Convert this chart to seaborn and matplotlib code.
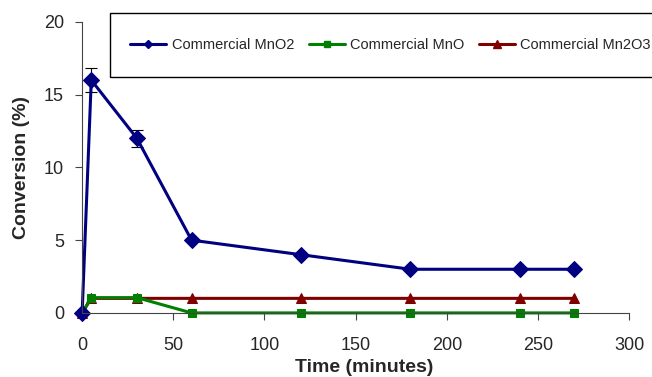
import numpy as np
import pandas as pd
import matplotlib
matplotlib.use("Agg")
import matplotlib.pyplot as plt
from matplotlib.patches import Rectangle
from matplotlib.lines import Line2D
import seaborn as sns

# ---------------------------------------------------
# Data
# ---------------------------------------------------
time_min = [0, 5, 30, 60, 120, 180, 240, 270]
mno2 = [0, 16, 12, 5, 4, 3, 3, 3]
mno2_err = [0, 0.8, 0.6, 0, 0, 0, 0, 0]
mno = [0, 1.05, 1.05, 0, 0, 0, 0, 0]
mn2o3 = [0, 1, 1, 1, 1, 1, 1, 1]

series_names = ["Commercial MnO2", "Commercial MnO", "Commercial Mn2O3"]
colors = ["#000080", "#008000", "#800000"]
markers = ["D", "s", "^"]
marker_sizes = [8, 5.5, 6.5]
legend_marker_sizes = [4.5, 5, 6]

df = pd.DataFrame({
    "time": time_min * 3,
    "conv": mno2 + mno + mn2o3,
    "series": np.repeat(series_names, len(time_min)),
})

sns.set_style("ticks")
plt.rcParams["font.family"] = ["Liberation Sans", "DejaVu Sans"]

fig = plt.figure(figsize=(6.52, 3.77), dpi=100)
ax = fig.add_axes([0.126, 0.170, 0.839, 0.772])

# draw later series first so MnO2 sits on top
for name, col, mk, ms in reversed(list(zip(series_names, colors, markers, marker_sizes))):
    sub = df[df["series"] == name]
    sns.lineplot(data=sub, x="time", y="conv", color=col, marker=mk,
                 markersize=ms, markeredgecolor=col, linewidth=2.2,
                 ax=ax, legend=False, clip_on=False)

ax.errorbar(time_min[1:3], mno2[1:3], yerr=mno2_err[1:3], fmt="none",
            ecolor="black", elinewidth=0.8, capsize=4, capthick=0.8, zorder=1)

ax.set_xlim(0, 300)
ax.set_ylim(0, 20)
ax.set_xticks(range(0, 301, 50))
ax.set_yticks(range(0, 21, 5))
ax.tick_params(labelsize=13, length=5, width=0.8, direction="out",
               color="#444444", pad=8)
ax.tick_params(axis="x", pad=12)
ax.set_xlabel("Time (minutes)", fontsize=14, fontweight="bold", labelpad=4, x=0.515)
ax.set_ylabel("Conversion (%)", fontsize=14, fontweight="bold", labelpad=10)
sns.despine(ax=ax)
for s in ["left", "bottom"]:
    ax.spines[s].set_color("#444444")
    ax.spines[s].set_linewidth(0.8)

# legend with smaller markers than the plotted points
handles = [Line2D([], [], color=c, marker=m, markersize=s, linewidth=2.2)
           for c, m, s in zip(colors, markers, legend_marker_sizes)]
ax.legend(handles, series_names, ncol=3, frameon=False,
          fontsize=10.5, loc="center left", handlelength=2.5, columnspacing=1.0,
          handletextpad=0.35, borderpad=0, borderaxespad=0,
          bbox_to_anchor=(130 / 652, 1 - 45 / 377),
          bbox_transform=fig.transFigure)

fig.patches.append(Rectangle((110 / 652, 1 - 77 / 377), 560 / 652, 64 / 377,
                             transform=fig.transFigure, fill=False,
                             edgecolor="black", linewidth=1.0))

plt.savefig("out.png", dpi=100)
